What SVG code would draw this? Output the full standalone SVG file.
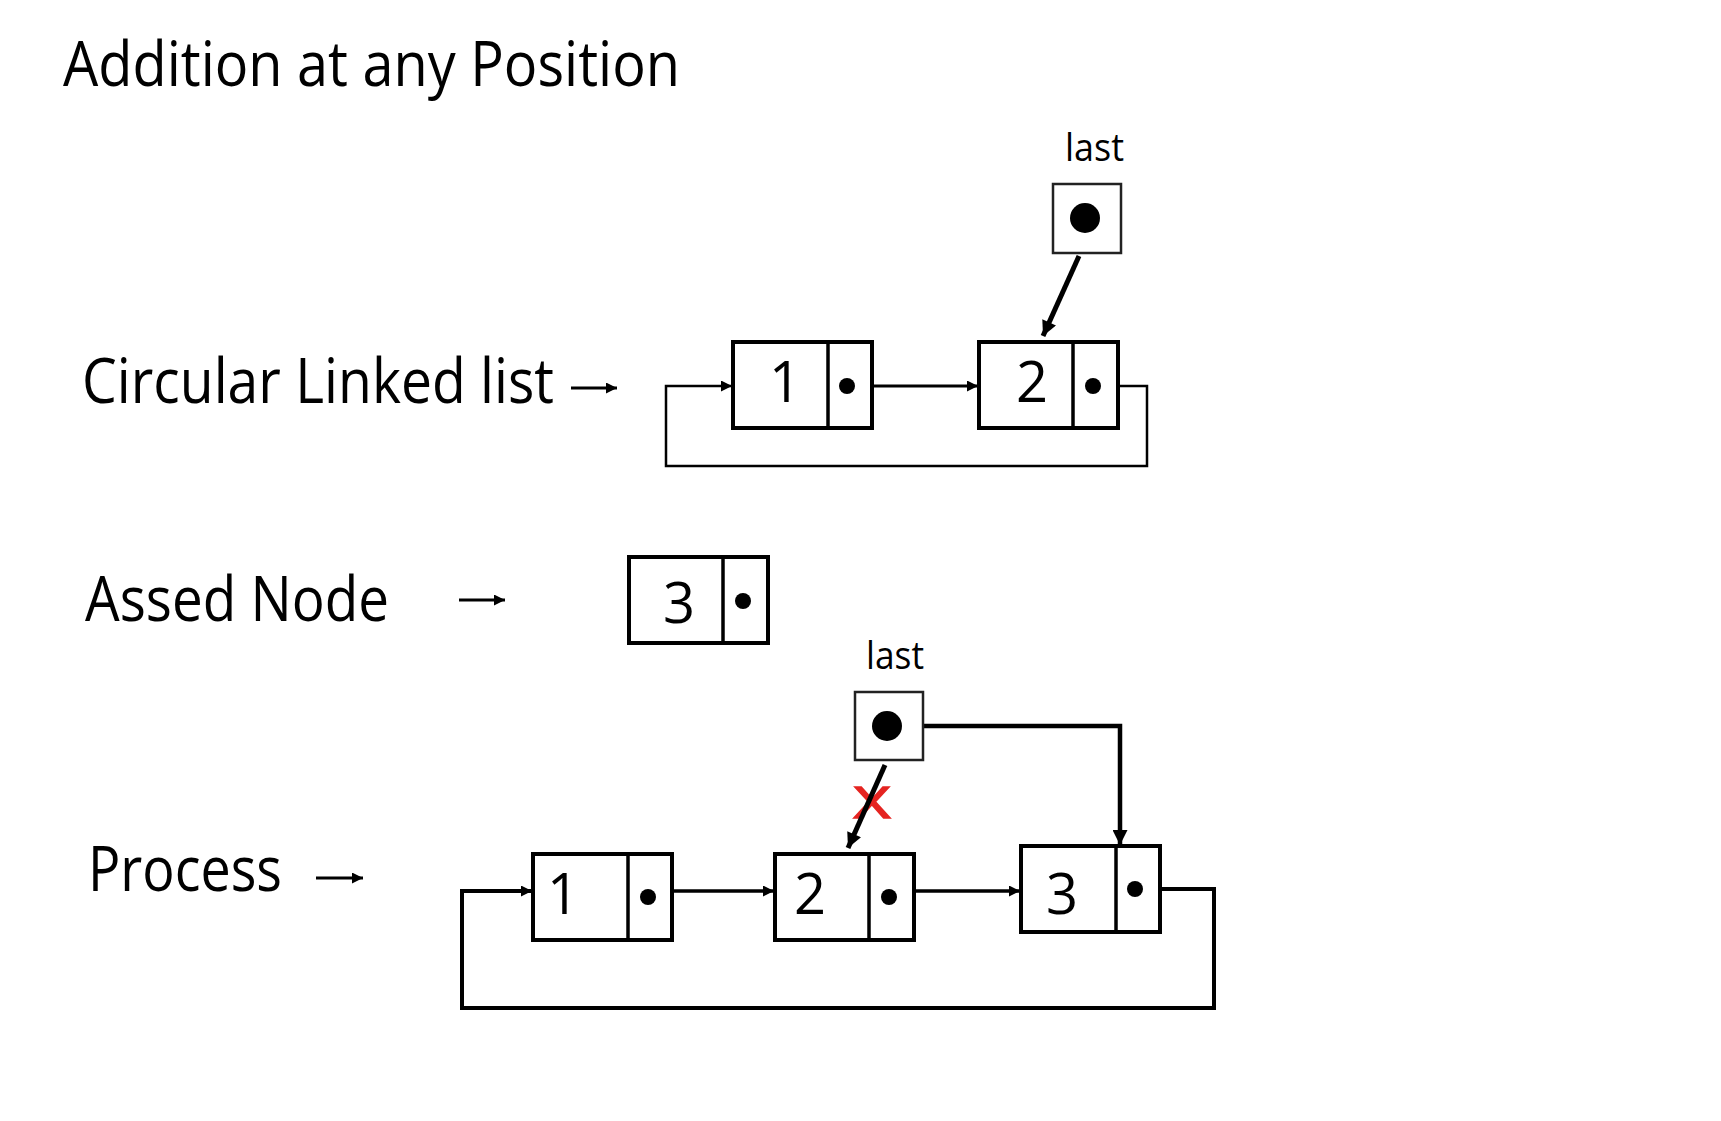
<svg xmlns="http://www.w3.org/2000/svg" width="1721" height="1121" viewBox="0 0 1721 1121">
<defs>
<style>
.lbl{font-family:"Open Sans","Liberation Sans",sans-serif;font-size:62px;fill:#000}
.dig{font-family:"Open Sans","Liberation Sans",sans-serif;font-size:56px;fill:#000;text-anchor:middle}
.small{font-family:"Open Sans","Liberation Sans",sans-serif;font-size:38px;fill:#000}
.box{fill:#fff;stroke:#000;stroke-width:4}
.div{stroke:#000;stroke-width:3.5}
.ptr{fill:#fff;stroke:#222;stroke-width:2.5}
.con{fill:none;stroke:#000}
</style>
<marker id="ah" viewBox="0 0 10 10" refX="10" refY="5" markerUnits="userSpaceOnUse" markerWidth="11" markerHeight="11" orient="auto">
<path d="M0,0 L10,5 L0,10 z" fill="#000"/>
</marker>
<marker id="ahb" viewBox="0 0 10 10" refX="10" refY="5" markerUnits="userSpaceOnUse" markerWidth="16" markerHeight="15" orient="auto">
<path d="M0,0 L10,5 L0,10 z" fill="#000"/>
</marker>
</defs>
<rect width="1721" height="1121" fill="#fff"/>

<text class="lbl" x="63" y="86" textLength="617" lengthAdjust="spacingAndGlyphs">Addition at any Position</text>
<text class="lbl" x="82" y="403" textLength="472" lengthAdjust="spacingAndGlyphs">Circular Linked list</text>
<text class="lbl" x="85" y="621" textLength="304" lengthAdjust="spacingAndGlyphs">Assed Node</text>
<text class="lbl" x="88" y="891" textLength="194" lengthAdjust="spacingAndGlyphs">Process</text>

<g id="cross">
<text x="854" y="818" font-family="Open Sans, Liberation Sans, sans-serif" font-size="43" fill="#e52421" stroke="#e52421" stroke-width="1.6" textLength="36" lengthAdjust="spacingAndGlyphs">X</text>
</g>

<g id="connectors">
<line class="con" x1="571" y1="388" x2="617" y2="388" stroke-width="3" marker-end="url(#ah)"/>
<line class="con" x1="459" y1="600" x2="505" y2="600" stroke-width="3" marker-end="url(#ah)"/>
<line class="con" x1="316" y1="878" x2="363" y2="878" stroke-width="3" marker-end="url(#ah)"/>

<line class="con" x1="1079" y1="256" x2="1043" y2="336" stroke-width="5" marker-end="url(#ahb)"/>
<line class="con" x1="873" y1="386" x2="978" y2="386" stroke-width="3" marker-end="url(#ah)"/>
<path class="con" d="M1093,386 H1147 V466 H666 V386 H732" stroke-width="2.5" marker-end="url(#ah)"/>

<line class="con" x1="885" y1="765" x2="848" y2="848" stroke-width="5" marker-end="url(#ahb)"/>
<path class="con" d="M924,726 H1120 V845" stroke-width="4.5" marker-end="url(#ahb)"/>
<line class="con" x1="673" y1="891" x2="774" y2="891" stroke-width="3.5" marker-end="url(#ah)"/>
<line class="con" x1="914" y1="891" x2="1020" y2="891" stroke-width="3.5" marker-end="url(#ah)"/>
<path class="con" d="M1135,889 H1214 V1008 H462 V891 H532" stroke-width="4" marker-end="url(#ah)"/>
</g>

<g id="last1">
<text class="small" x="1065" y="161" textLength="59" lengthAdjust="spacingAndGlyphs">last</text>
<rect class="ptr" x="1053" y="184" width="68" height="69"/>
<circle cx="1085" cy="218" r="15"/>
</g>

<g id="list-node1">
<rect class="box" x="733" y="342" width="139" height="86"/>
<line class="div" x1="828" y1="342" x2="828" y2="428"/>
<text class="dig" x="785" y="402">1</text>
<circle cx="847" cy="386" r="8"/>
</g>

<g id="list-node2">
<rect class="box" x="979" y="342" width="139" height="86"/>
<line class="div" x1="1073" y1="342" x2="1073" y2="428"/>
<text class="dig" x="1032" y="402">2</text>
<circle cx="1093" cy="386" r="8"/>
</g>

<g id="added-node3">
<rect class="box" x="629" y="557" width="139" height="86"/>
<line class="div" x1="723" y1="557" x2="723" y2="643"/>
<text class="dig" x="679" y="623">3</text>
<circle cx="743" cy="601" r="8"/>
</g>

<g id="last2">
<text class="small" x="866" y="669" textLength="58" lengthAdjust="spacingAndGlyphs">last</text>
<rect class="ptr" x="855" y="692" width="68" height="68"/>
<circle cx="887" cy="726" r="15"/>
</g>

<g id="proc-node1">
<rect class="box" x="533" y="854" width="139" height="86"/>
<line class="div" x1="628" y1="854" x2="628" y2="940"/>
<text class="dig" x="563" y="914">1</text>
<circle cx="648" cy="897" r="8"/>
</g>

<g id="proc-node2">
<rect class="box" x="775" y="854" width="139" height="86"/>
<line class="div" x1="869" y1="854" x2="869" y2="940"/>
<text class="dig" x="810" y="914">2</text>
<circle cx="889" cy="897" r="8"/>
</g>

<g id="proc-node3">
<rect class="box" x="1021" y="846" width="139" height="86"/>
<line class="div" x1="1116" y1="846" x2="1116" y2="932"/>
<text class="dig" x="1062" y="914">3</text>
<circle cx="1135" cy="889" r="8"/>
</g>
</svg>
